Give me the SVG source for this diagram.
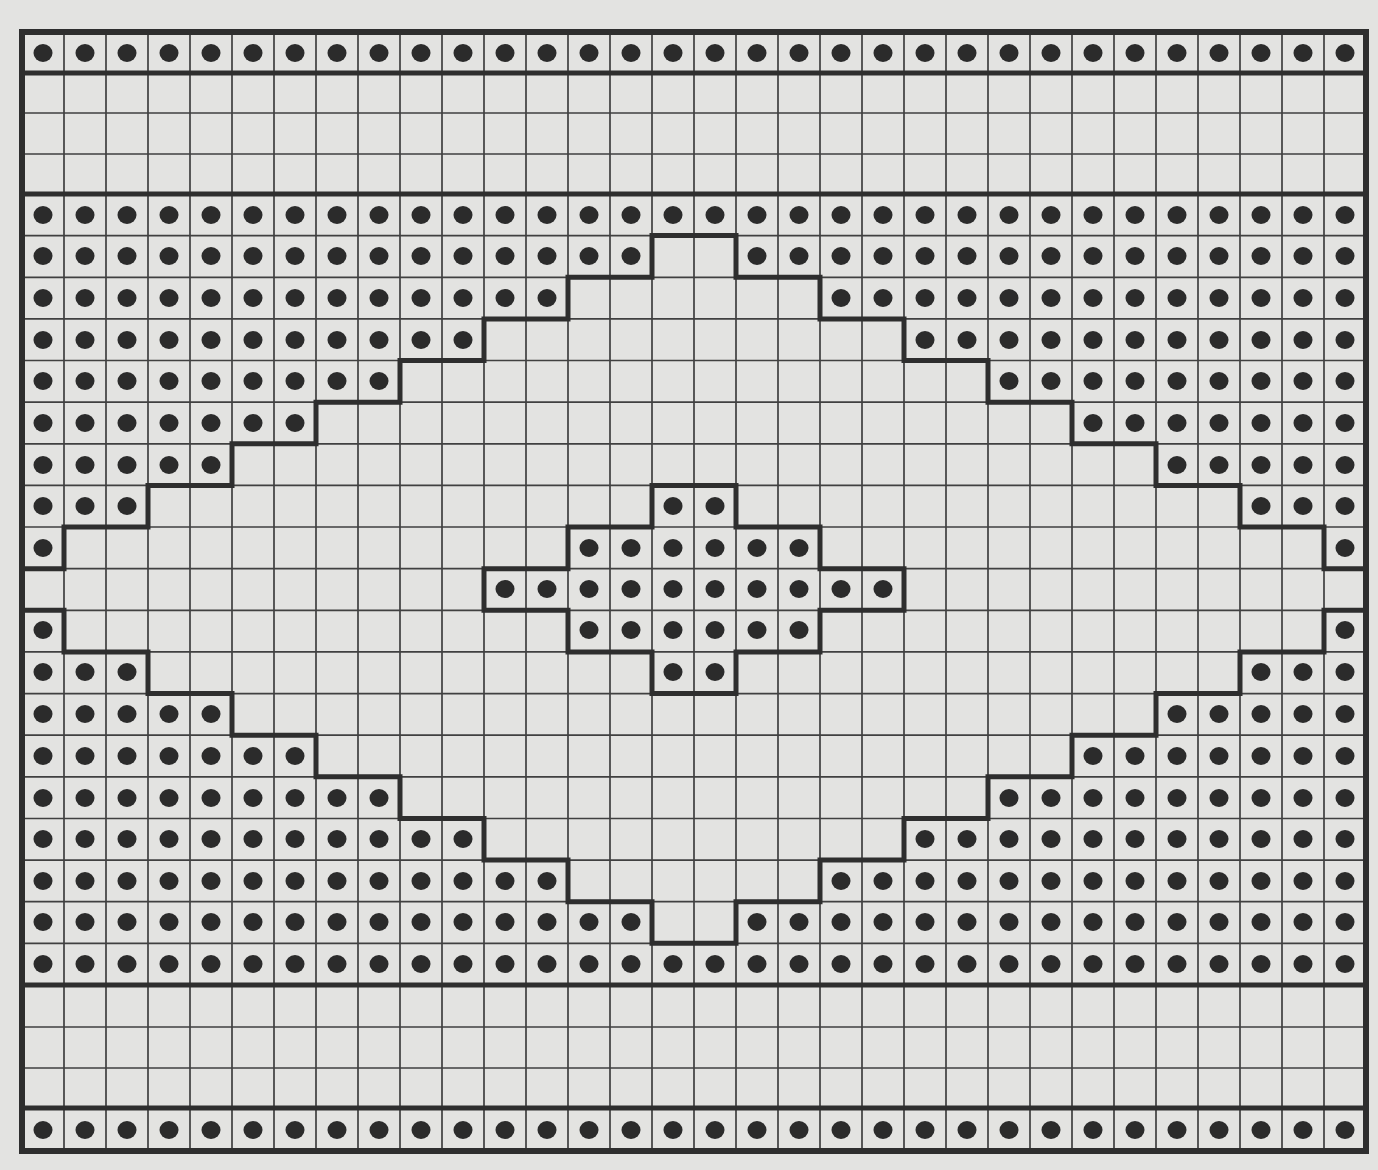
<svg xmlns="http://www.w3.org/2000/svg" xmlns:xlink="http://www.w3.org/1999/xlink" width="1378" height="1170" viewBox="0 0 1378 1170">
<style>
.bg{fill:#e3e3e1}
.thin{fill:none;stroke:#404040;stroke-width:1.7}
.thick{fill:none;stroke:#2e2e2e;stroke-width:5;stroke-linejoin:miter;stroke-linecap:square}
.border{fill:none;stroke:#2e2e2e;stroke-width:6}
.dot{fill:#2b2b2b}
</style>
<defs>
<ellipse id="d" class="dot" cx="43" cy="0" rx="9.5" ry="9"/>
<g id="L1"><use href="#d"/></g>
<g id="L3"><use href="#L1"/><use href="#d" x="42"/><use href="#d" x="84"/></g>
<g id="L5"><use href="#L3"/><use href="#d" x="126"/><use href="#d" x="168"/></g>
<g id="L7"><use href="#L5"/><use href="#d" x="210"/><use href="#d" x="252"/></g>
<g id="L9"><use href="#L7"/><use href="#d" x="294"/><use href="#d" x="336"/></g>
<g id="L11"><use href="#L9"/><use href="#d" x="378"/><use href="#d" x="420"/></g>
<g id="L13"><use href="#L11"/><use href="#d" x="462"/><use href="#d" x="504"/></g>
<g id="L15"><use href="#L13"/><use href="#d" x="546"/><use href="#d" x="588"/></g>
<g id="L16"><use href="#L15"/><use href="#d" x="630"/></g>
<g id="FULL"><use href="#L16"/><use href="#L16" x="672"/></g>
</defs>
<rect class="bg" x="0" y="0" width="1378" height="1170"/>
<g id="grid">
<path class="thin" d="M64 32V1151M106 32V1151M148 32V1151M190 32V1151M232 32V1151M274 32V1151M316 32V1151M358 32V1151M400 32V1151M442 32V1151M484 32V1151M526 32V1151M568 32V1151M610 32V1151M652 32V1151M694 32V1151M736 32V1151M778 32V1151M820 32V1151M862 32V1151M904 32V1151M946 32V1151M988 32V1151M1030 32V1151M1072 32V1151M1114 32V1151M1156 32V1151M1198 32V1151M1240 32V1151M1282 32V1151M1324 32V1151"/>
<path class="thin" d="M22 113H1366M22 154H1366M22 235.6H1366M22 277.3H1366M22 318.9H1366M22 360.5H1366M22 402.2H1366M22 443.8H1366M22 485.4H1366M22 527H1366M22 568.7H1366M22 610.3H1366M22 651.9H1366M22 693.6H1366M22 735.2H1366M22 776.8H1366M22 818.5H1366M22 860.1H1366M22 901.7H1366M22 943.3H1366M22 1027H1366M22 1068H1366"/>
</g>
<g id="dots">
<use href="#FULL" y="53"/>
<use href="#FULL" y="215"/>
<use href="#L15" y="256"/><use href="#L15" x="714" y="256"/>
<use href="#L13" y="298"/><use href="#L13" x="798" y="298"/>
<use href="#L11" y="340"/><use href="#L11" x="882" y="340"/>
<use href="#L9" y="381"/><use href="#L9" x="966" y="381"/>
<use href="#L7" y="423"/><use href="#L7" x="1050" y="423"/>
<use href="#L5" y="465"/><use href="#L5" x="1134" y="465"/>
<use href="#L3" y="506"/><use href="#L3" x="1218" y="506"/>
<use href="#L1" y="548"/><use href="#L1" x="1302" y="548"/>
<use href="#L1" y="630"/><use href="#L1" x="1302" y="630"/>
<use href="#L3" y="672"/><use href="#L3" x="1218" y="672"/>
<use href="#L5" y="714"/><use href="#L5" x="1134" y="714"/>
<use href="#L7" y="756"/><use href="#L7" x="1050" y="756"/>
<use href="#L9" y="798"/><use href="#L9" x="966" y="798"/>
<use href="#L11" y="839"/><use href="#L11" x="882" y="839"/>
<use href="#L13" y="881"/><use href="#L13" x="798" y="881"/>
<use href="#L15" y="922"/><use href="#L15" x="714" y="922"/>
<use href="#FULL" y="964"/>
<use href="#FULL" y="1130"/>
</g>
<g id="center-dots">
<use href="#d" x="630" y="506"/><use href="#d" x="672" y="506"/>
<use href="#L3" x="546" y="548"/><use href="#L3" x="672" y="548"/>
<use href="#L5" x="462" y="589"/><use href="#L5" x="672" y="589"/>
<use href="#L3" x="546" y="630"/><use href="#L3" x="672" y="630"/>
<use href="#d" x="630" y="672"/><use href="#d" x="672" y="672"/>
</g>
<g id="outlines">
<path class="thick" d="M22 73H1366M22 194H1366M22 985H1366M22 1108H1366"/>
<path class="thick" d="M22 568.7H64V527H148V485.4H232V443.8H316V402.2H400V360.5H484V318.9H568V277.3H652V235.6H736V277.3H820V318.9H904V360.5H988V402.2H1072V443.8H1156V485.4H1240V527H1324V568.7H1366"/>
<path class="thick" d="M22 610.3H64V651.9H148V693.6H232V735.2H316V776.8H400V818.5H484V860.1H568V901.7H652V943.3H736V901.7H820V860.1H904V818.5H988V776.8H1072V735.2H1156V693.6H1240V651.9H1324V610.3H1366"/>
<path class="thick" d="M652 485.4H736V527H820V568.7H904V610.3H820V651.9H736V693.6H652V651.9H568V610.3H484V568.7H568V527H652Z"/>
<rect class="border" x="22" y="32" width="1344" height="1119"/>
</g>
</svg>
